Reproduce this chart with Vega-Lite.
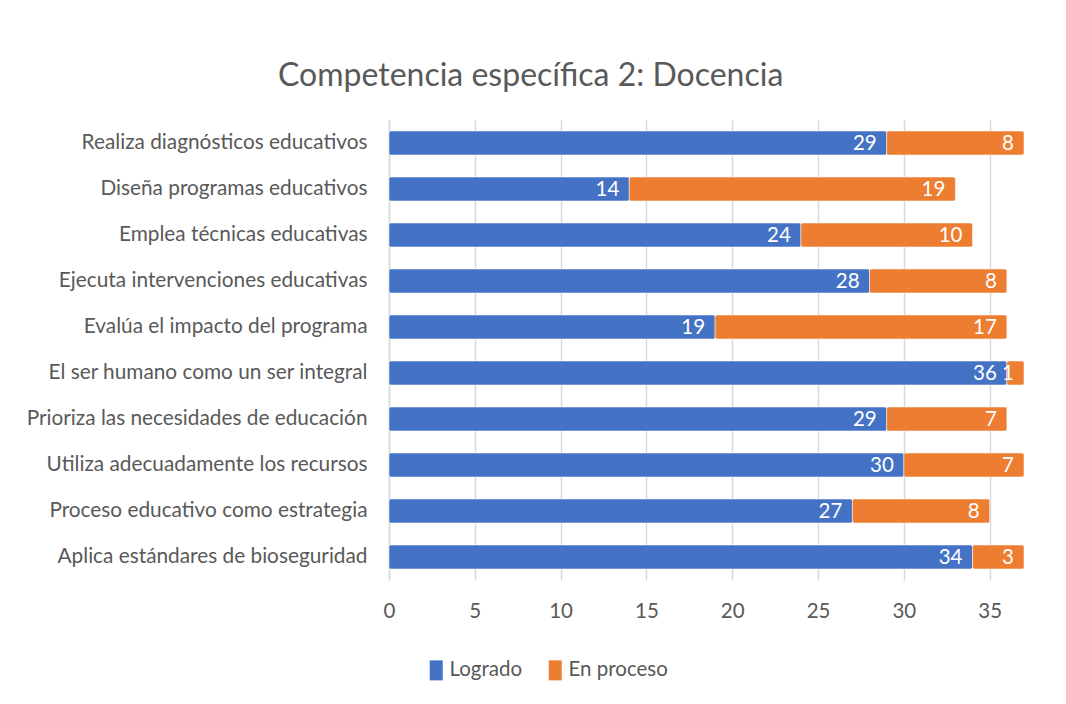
{
  "$schema": "https://vega.github.io/schema/vega-lite/v6.json",
  "width": 635,
  "height": 460,
  "autosize": {"type": "none"},
  "padding": {"left": 389, "top": 120, "right": 42, "bottom": 124},
  "background": "white",
  "title": {
    "text": "Competencia específica 2: Docencia",
    "anchor": "start",
    "frame": "group",
    "dx": -111,
    "offset": 27,
    "font": "Lato",
    "fontSize": 32,
    "fontWeight": "normal",
    "color": "#595959"
  },
  "data": {
    "values": [
      {"item": "Realiza diagnósticos educativos", "serie": "Logrado", "o": 1, "value": 29},
      {"item": "Realiza diagnósticos educativos", "serie": "En proceso", "o": 2, "value": 8},
      {"item": "Diseña programas educativos", "serie": "Logrado", "o": 1, "value": 14},
      {"item": "Diseña programas educativos", "serie": "En proceso", "o": 2, "value": 19},
      {"item": "Emplea técnicas educativas", "serie": "Logrado", "o": 1, "value": 24},
      {"item": "Emplea técnicas educativas", "serie": "En proceso", "o": 2, "value": 10},
      {"item": "Ejecuta intervenciones educativas", "serie": "Logrado", "o": 1, "value": 28},
      {"item": "Ejecuta intervenciones educativas", "serie": "En proceso", "o": 2, "value": 8},
      {"item": "Evalúa el impacto del programa", "serie": "Logrado", "o": 1, "value": 19},
      {"item": "Evalúa el impacto del programa", "serie": "En proceso", "o": 2, "value": 17},
      {"item": "El ser humano como un ser integral", "serie": "Logrado", "o": 1, "value": 36},
      {"item": "El ser humano como un ser integral", "serie": "En proceso", "o": 2, "value": 1},
      {"item": "Prioriza las necesidades de educación", "serie": "Logrado", "o": 1, "value": 29},
      {"item": "Prioriza las necesidades de educación", "serie": "En proceso", "o": 2, "value": 7},
      {"item": "Utiliza adecuadamente los recursos", "serie": "Logrado", "o": 1, "value": 30},
      {"item": "Utiliza adecuadamente los recursos", "serie": "En proceso", "o": 2, "value": 7},
      {"item": "Proceso educativo como estrategia", "serie": "Logrado", "o": 1, "value": 27},
      {"item": "Proceso educativo como estrategia", "serie": "En proceso", "o": 2, "value": 8},
      {"item": "Aplica estándares de bioseguridad", "serie": "Logrado", "o": 1, "value": 34},
      {"item": "Aplica estándares de bioseguridad", "serie": "En proceso", "o": 2, "value": 3}
    ]
  },
  "transform": [
    {"stack": "value", "groupby": ["item"], "sort": [{"field": "o", "order": "ascending"}], "as": ["v0", "v1"]}
  ],
  "encoding": {
    "y": {
      "field": "item",
      "type": "nominal",
      "sort": null,
      "title": null,
      "scale": {"paddingInner": 0.48, "paddingOuter": 0.24},
      "axis": {
        "labelFont": "Lato",
        "labelFontSize": 20.8,
        "labelColor": "#595959",
        "labelPadding": 22,
        "ticks": false,
        "domainColor": "#d9d9d9",
        "domainWidth": 1.5,
        "labelLimit": 400
      }
    }
  },
  "layer": [
    {
      "mark": {"type": "bar", "cornerRadius": 2, "stroke": "white", "strokeWidth": 0.5},
      "encoding": {
        "x": {
          "field": "v0",
          "type": "quantitative",
          "title": null,
          "scale": {"domain": [0, 37], "nice": false, "zero": true},
          "axis": {
            "values": [0, 5, 10, 15, 20, 25, 30, 35],
            "domain": false,
            "ticks": false,
            "labelFlush": false,
            "gridColor": "#d9d9d9",
            "gridWidth": 1.5,
            "labelFont": "Lato",
            "labelFontSize": 20.5,
            "labelColor": "#595959",
            "labelPadding": 21
          }
        },
        "x2": {"field": "v1"},
        "color": {
          "field": "serie",
          "type": "nominal",
          "sort": ["Logrado", "En proceso"],
          "scale": {"domain": ["Logrado", "En proceso"], "range": ["#4472C4", "#ED7D31"]},
          "legend": {
            "title": null,
            "orient": "none",
            "direction": "horizontal",
            "legendX": 37,
            "legendY": 540,
            "symbolType": "M-0.65,-1H0.65V1H-0.65Z",
            "symbolSize": 400,
            "symbolStrokeWidth": 0,
            "symbolOpacity": 1,
            "labelFont": "Lato",
            "labelFontSize": 20.5,
            "labelColor": "#595959",
            "labelOffset": 3,
            "columnPadding": 22
          }
        }
      }
    },
    {
      "mark": {"type": "text", "align": "right", "baseline": "middle", "dx": -10, "dy": 1, "color": "white", "font": "Lato", "fontSize": 20.5},
      "encoding": {
        "x": {"field": "v1", "type": "quantitative"},
        "text": {"field": "value", "type": "quantitative"}
      }
    }
  ],
  "config": {
    "view": {"stroke": null}
  }
}
